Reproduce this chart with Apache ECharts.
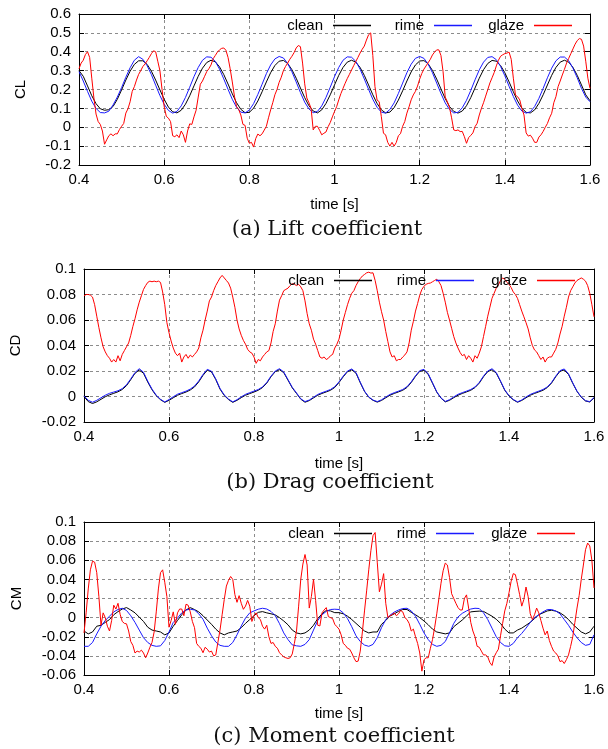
<!DOCTYPE html>
<html><head><meta charset="utf-8">
<script src="https://cdn.jsdelivr.net/npm/echarts/dist/echarts.min.js"></script>
<style>html,body{margin:0;padding:0;background:#fff}#c{width:608px;height:749px}</style>
</head><body><div id="c"></div>
<script>
// ---- time ticks ----
const xTicks = [0.4, 0.6, 0.8, 1, 1.2, 1.4, 1.6];
// ---- CL (lift) ----  smooth series sampled every 0.01 s, glaze every 0.005 s
const cleanCL = [
0.300,0.270,0.219,0.167,0.125,0.098,0.090,0.093,0.110,0.148,
0.198,0.250,0.297,0.333,0.352,0.352,0.333,0.297,0.250,0.198,
0.148,0.107,0.082,0.076,0.090,0.122,0.167,0.219,0.270,0.313,
0.343,0.355,0.347,0.320,0.279,0.229,0.177,0.130,0.095,0.077,
0.079,0.101,0.139,0.188,0.240,0.289,0.327,0.350,0.354,0.338,
0.305,0.260,0.208,0.157,0.114,0.086,0.076,0.092,0.126,0.172,
0.224,0.275,0.317,0.345,0.355,0.345,0.317,0.275,0.224,0.172,
0.126,0.092,0.076,0.080,0.104,0.144,0.193,0.245,0.293,0.330,
0.351,0.353,0.336,0.301,0.255,0.203,0.152,0.110,0.084,0.075,
0.086,0.114,0.157,0.208,0.260,0.305,0.338,0.354,0.350,0.327,
0.289,0.240,0.188,0.139,0.101,0.079,0.076,0.092,0.126,0.172,
0.224,0.275,0.317,0.345,0.355,0.345,0.317,0.275,0.224,0.172,
0.140];
const rimeCL = [
0.295,0.245,0.190,0.138,0.100,0.078,0.076,0.085,0.118,0.160,
0.210,0.265,0.315,0.355,0.374,0.360,0.326,0.279,0.223,0.168,
0.122,0.089,0.075,0.084,0.113,0.158,0.212,0.268,0.317,0.355,
0.373,0.371,0.349,0.308,0.256,0.201,0.148,0.106,0.080,0.076,
0.091,0.125,0.174,0.228,0.284,0.330,0.362,0.375,0.367,0.338,
0.294,0.240,0.184,0.133,0.097,0.077,0.084,0.113,0.158,0.212,
0.268,0.317,0.355,0.373,0.371,0.349,0.308,0.256,0.201,0.148,
0.106,0.080,0.075,0.094,0.129,0.179,0.234,0.289,0.334,0.365,
0.375,0.365,0.334,0.289,0.234,0.179,0.129,0.094,0.076,0.079,
0.103,0.143,0.195,0.251,0.304,0.345,0.370,0.374,0.358,0.322,
0.273,0.217,0.163,0.117,0.086,0.075,0.082,0.110,0.153,0.206,
0.262,0.313,0.352,0.372,0.372,0.352,0.313,0.262,0.206,0.160,
0.135];
const glazeCL = [
0.31,0.34,0.355,0.385,0.40,0.37,0.26,0.155,0.07,0.03,
0.015,-0.02,-0.09,-0.067,-0.045,-0.035,-0.045,-0.035,-0.035,-0.012,
0.005,0.02,0.075,0.098,0.135,0.19,0.215,0.25,0.28,0.30,
0.322,0.335,0.352,0.37,0.39,0.405,0.40,0.35,0.30,0.20,
0.11,0.058,0.048,0.03,-0.045,-0.05,-0.04,-0.055,-0.02,-0.04,
-0.08,-0.02,0.018,0.015,0.055,0.09,0.16,0.228,0.245,0.27,
0.295,0.31,0.33,0.363,0.38,0.398,0.41,0.418,0.42,0.408,
0.37,0.31,0.24,0.165,0.11,0.094,0.065,0.015,0.01,-0.058,
-0.085,-0.08,-0.105,-0.06,-0.036,-0.045,-0.035,-0.015,0.005,0.05,
0.092,0.13,0.172,0.2,0.238,0.265,0.30,0.322,0.34,0.36,
0.376,0.395,0.42,0.433,0.427,0.34,0.23,0.155,0.13,0.10,
-0.014,0.005,0.005,-0.016,-0.04,-0.032,-0.025,0.003,0.025,0.055,
0.083,0.109,0.145,0.178,0.206,0.233,0.258,0.28,0.303,0.326,
0.348,0.37,0.393,0.413,0.43,0.462,0.49,0.5,0.38,0.215,
0.144,0.135,0.056,-0.032,-0.04,-0.08,-0.1,-0.08,-0.1,-0.081,
-0.045,-0.034,0.005,0.03,0.075,0.108,0.145,0.171,0.19,0.218,
0.255,0.285,0.308,0.325,0.342,0.36,0.383,0.398,0.41,0.41,
0.38,0.294,0.16,0.135,0.105,0.05,-0.014,-0.018,-0.014,-0.023,
-0.022,-0.05,-0.085,-0.055,-0.043,-0.03,0.003,0.021,0.065,0.1,
0.13,0.165,0.2,0.235,0.262,0.29,0.325,0.355,0.376,0.384,
0.39,0.393,0.398,0.36,0.26,0.17,0.162,0.145,0.1,0.065,
-0.03,-0.047,-0.042,-0.058,-0.08,-0.08,-0.052,-0.04,-0.022,0.0,
0.02,0.05,0.074,0.13,0.162,0.215,0.245,0.277,0.307,0.34,
0.365,0.39,0.415,0.44,0.459,0.47,0.466,0.43,0.35,0.26,
0.206];
// ---- CD (drag) ----
const cleanCD = [
0.0,-0.004,-0.0055,-0.0042,-0.0022,-0.0002,0.0013,0.0025,0.0037,0.0055,
0.0085,0.0132,0.0182,0.0208,0.0182,0.0113,0.0053,0.0006,-0.0025,-0.0046,
-0.003,-0.001,0.001,0.0023,0.0035,0.0051,0.0075,0.0115,0.0166,0.0206,
0.0193,0.0133,0.0058,0.0008,-0.0024,-0.0046,-0.003,-0.0009,0.001,0.0023,
0.0035,0.0049,0.007,0.0105,0.0155,0.0195,0.021,0.0187,0.0128,0.0068,
0.0024,-0.0021,-0.0045,-0.0032,-0.0011,0.001,0.0024,0.0036,0.0049,0.0071,
0.011,0.0155,0.0195,0.0209,0.0183,0.0108,0.004,-0.0006,-0.003,-0.0044,
-0.0031,-0.001,0.001,0.0024,0.0036,0.0049,0.0071,0.011,0.0158,0.0198,
0.0206,0.0173,0.0104,0.0034,-0.0013,-0.0042,-0.003,-0.0009,0.001,0.0024,
0.0036,0.0049,0.007,0.0105,0.0155,0.0195,0.021,0.0183,0.0118,0.0049,
0.0004,-0.0026,-0.0045,-0.0031,-0.001,0.001,0.0024,0.0036,0.0049,0.007,
0.0105,0.0155,0.0198,0.0208,0.0173,0.0103,0.004,-0.0006,-0.0035,-0.0043,
-0.0012];
const rimeCD = [
0.0005,-0.003,-0.0045,-0.003,-0.001,0.001,0.0025,0.0035,0.0045,0.0062,
0.0092,0.0138,0.0188,0.0218,0.019,0.012,0.0058,0.001,-0.0022,-0.0043,
-0.0024,-0.0002,0.0018,0.003,0.0042,0.0058,0.0082,0.0122,0.0173,0.0213,
0.0198,0.0138,0.0063,0.0012,-0.002,-0.0042,-0.0025,-0.0003,0.0017,0.003,
0.0042,0.0055,0.0075,0.011,0.016,0.02,0.0218,0.0192,0.0132,0.0072,
0.0028,-0.0018,-0.004,-0.0028,-0.0006,0.0016,0.003,0.0042,0.0055,0.0077,
0.0115,0.016,0.02,0.0216,0.0188,0.0112,0.0042,-0.0003,-0.0028,-0.004,
-0.0026,-0.0004,0.0016,0.003,0.0042,0.0055,0.0077,0.0115,0.0163,0.0203,
0.0213,0.0178,0.0108,0.0037,-0.0011,-0.0039,-0.0025,-0.0003,0.0017,0.003,
0.0042,0.0055,0.0075,0.011,0.016,0.02,0.0218,0.0188,0.0122,0.0052,
0.0007,-0.0023,-0.0042,-0.0027,-0.0004,0.0016,0.003,0.0042,0.0055,0.0075,
0.011,0.016,0.0203,0.0216,0.0178,0.0107,0.0042,-0.0003,-0.0033,-0.004,
-0.0008];
const glazeCD = [
0.079,0.080,0.080,0.0795,0.078,0.072,0.063,0.054,0.046,0.039,
0.035,0.032,0.030,0.027,0.029,0.027,0.032,0.028,0.033,0.036,
0.039,0.042,0.048,0.055,0.061,0.068,0.074,0.079,0.084,0.087,
0.0895,0.0905,0.090,0.0905,0.090,0.0905,0.0895,0.082,0.072,0.058,
0.050,0.0435,0.038,0.034,0.032,0.034,0.027,0.031,0.033,0.030,
0.0325,0.031,0.033,0.035,0.038,0.046,0.052,0.060,0.067,0.075,
0.078,0.083,0.087,0.090,0.093,0.095,0.093,0.091,0.089,0.085,
0.078,0.070,0.060,0.053,0.048,0.044,0.041,0.037,0.035,0.034,
0.031,0.026,0.029,0.028,0.031,0.033,0.035,0.036,0.042,0.051,
0.057,0.067,0.0756,0.079,0.083,0.084,0.085,0.087,0.0885,0.088,
0.087,0.088,0.086,0.083,0.075,0.065,0.057,0.052,0.045,0.041,
0.036,0.031,0.030,0.031,0.029,0.030,0.032,0.033,0.038,0.041,
0.045,0.052,0.060,0.066,0.072,0.077,0.081,0.083,0.087,0.090,
0.0925,0.0945,0.0957,0.097,0.0975,0.0968,0.097,0.091,0.083,0.074,
0.0665,0.060,0.051,0.043,0.035,0.031,0.032,0.028,0.029,0.029,
0.031,0.0326,0.035,0.042,0.052,0.059,0.067,0.073,0.0795,0.084,
0.0865,0.088,0.0887,0.089,0.090,0.091,0.092,0.090,0.087,0.081,
0.074,0.066,0.060,0.0535,0.047,0.042,0.038,0.0345,0.032,0.033,
0.029,0.032,0.030,0.027,0.032,0.030,0.034,0.039,0.047,0.055,
0.063,0.070,0.077,0.081,0.085,0.0875,0.091,0.093,0.092,0.0895,
0.088,0.0855,0.082,0.080,0.077,0.072,0.067,0.0625,0.058,0.053,
0.046,0.040,0.0365,0.035,0.032,0.029,0.031,0.027,0.030,0.031,
0.031,0.034,0.037,0.042,0.049,0.055,0.063,0.070,0.078,0.083,
0.086,0.089,0.091,0.092,0.093,0.092,0.0905,0.087,0.081,0.072,
0.0625];
// ---- CM (moment) ----
const cleanCM = [
-0.014,-0.017,-0.015,-0.009,-0.008,-0.005,-0.002,0.003,0.0063,0.009,
0.0105,0.008,0.005,0.0005,-0.004,-0.010,-0.013,-0.014,-0.015,-0.018,
-0.016,-0.009,-0.003,0.003,0.008,0.0105,0.0084,0.006,0.002,-0.0025,
-0.007,-0.012,-0.016,-0.018,-0.016,-0.015,-0.014,-0.0105,-0.006,-0.002,
0.002,0.0055,0.0063,0.005,0.004,0.0028,0.0,-0.0035,-0.0075,-0.013,
-0.016,-0.017,-0.016,-0.013,-0.008,-0.001,0.004,0.0075,0.007,0.0052,
0.0052,0.004,0.0015,-0.002,-0.006,-0.01,-0.014,-0.016,-0.015,-0.015,
-0.007,-0.003,0.0017,0.004,0.0065,0.0085,0.0085,0.0055,0.003,0.0,
-0.0035,-0.0075,-0.012,-0.015,-0.016,-0.017,-0.016,-0.0095,-0.006,-0.0025,
0.0017,0.006,0.0065,0.0068,0.0065,0.004,0.0015,-0.0017,-0.006,-0.012,
-0.016,-0.016,-0.013,-0.011,-0.008,-0.005,-0.001,0.003,0.005,0.007,
0.0077,0.0068,0.005,0.002,-0.002,-0.007,-0.011,-0.015,-0.017,-0.015,
-0.009];
const rimeCM = [
-0.030,-0.030,-0.026,-0.017,-0.009,-0.003,0.0015,0.006,0.0085,0.0098,
0.0075,0.002,-0.005,-0.013,-0.021,-0.026,-0.029,-0.030,-0.0295,-0.024,
-0.015,-0.005,-0.0005,0.005,0.008,0.0088,0.008,0.004,-0.0017,-0.011,
-0.019,-0.0255,-0.029,-0.030,-0.030,-0.026,-0.018,-0.0087,-0.0005,0.005,
0.007,0.0088,0.0098,0.009,0.0065,0.002,-0.0063,-0.016,-0.023,-0.0285,
-0.0295,-0.030,-0.028,-0.023,-0.013,-0.003,0.003,0.0065,0.0085,0.0088,
0.0085,0.005,-0.001,-0.0095,-0.019,-0.025,-0.0287,-0.030,-0.028,-0.021,
-0.0105,-0.002,0.0025,0.0058,0.008,0.0095,0.0098,0.007,0.0015,-0.007,
-0.016,-0.023,-0.028,-0.030,-0.029,-0.025,-0.016,-0.006,0.0007,0.0045,
0.007,0.009,0.0098,0.0095,0.005,-0.002,-0.011,-0.020,-0.026,-0.0295,
-0.030,-0.027,-0.021,-0.0165,-0.011,-0.005,0.0,0.003,0.006,0.0084,
0.0085,0.007,0.004,-0.002,-0.008,-0.015,-0.021,-0.026,-0.029,-0.028,
-0.018];
const glazeCM = [
-0.016,0.005,0.030,0.050,0.059,0.058,0.047,0.022,-0.008,0.005,
0.0,-0.009,-0.014,-0.003,0.013,0.009,0.015,0.0035,-0.004,-0.006,
-0.0065,-0.014,-0.025,-0.029,-0.037,-0.035,-0.036,-0.034,-0.037,-0.042,
-0.037,-0.031,-0.026,-0.015,0.006,0.030,0.047,0.050,0.037,0.022,
-0.010,-0.003,0.006,-0.007,0.005,0.009,0.009,0.002,0.014,0.013,
0.006,-0.004,-0.0105,-0.027,-0.030,-0.032,-0.0367,-0.031,-0.033,-0.036,
-0.035,-0.040,-0.039,-0.026,-0.013,0.003,0.019,0.033,0.039,0.043,
0.040,0.024,0.016,0.023,0.015,0.0087,0.012,0.018,0.012,-0.004,
0.002,0.005,0.0,-0.002,-0.009,-0.012,-0.008,-0.020,-0.027,-0.026,
-0.030,-0.032,-0.0367,-0.039,-0.041,-0.042,-0.0427,-0.042,-0.038,-0.027,
-0.014,0.012,0.040,0.056,0.066,0.055,0.010,0.022,0.040,0.018,
-0.008,-0.0087,0.005,0.008,0.0105,0.001,0.0,-0.001,-0.007,-0.0095,
-0.012,-0.018,-0.027,-0.029,-0.032,-0.033,-0.037,-0.042,-0.046,-0.0455,
-0.035,-0.015,0.007,0.028,0.050,0.070,0.0857,0.089,0.058,0.027,
0.035,0.046,0.015,0.0,0.002,0.003,0.005,0.002,0.004,0.0075,
0.006,0.0,-0.002,-0.006,-0.014,-0.012,-0.020,-0.027,-0.037,-0.056,
-0.044,-0.042,-0.042,-0.032,-0.023,-0.0105,0.004,0.020,0.036,0.049,
0.057,0.055,0.042,0.025,0.020,0.015,0.0105,0.008,0.008,0.020,
0.0238,0.010,-0.005,-0.014,-0.020,-0.030,-0.031,-0.035,-0.039,-0.039,
-0.041,-0.047,-0.050,-0.041,-0.0367,-0.033,-0.019,-0.006,0.007,0.015,
0.026,0.038,0.046,0.045,0.035,0.024,0.012,0.019,0.032,0.022,
0.004,-0.002,0.003,0.010,0.005,-0.003,-0.011,-0.018,-0.014,-0.024,
-0.030,-0.035,-0.037,-0.040,-0.046,-0.045,-0.048,-0.044,-0.039,-0.030,
-0.020,-0.005,0.010,0.023,0.040,0.055,0.071,0.078,0.075,0.060,
0.031];
const seriesNames = ['clean', 'rime', 'glaze'];
const panelNames = ['CL', 'CD', 'CM'];
const captions = ['(a) Lift coefficient', '(b) Drag coefficient', '(c) Moment coefficient'];
const yMin = [-0.2, -0.02, -0.06], yMax = [0.6, 0.1, 0.1], yStep = [0.1, 0.02, 0.02];

// sample times (x positions of the samples)
function timeGrid(n, step) { const a = []; for (let i = 0; i < n; i++) a.push(Math.round((0.4 + i * step) * 1000) / 1000); return a; }
function zip(vals) { const step = vals.length > 130 ? 0.005 : 0.01; const t = timeGrid(vals.length, step); return vals.map((v, i) => [t[i], v]); }

const FONT = '"Liberation Sans", Arial, Helvetica, sans-serif';
const FS = 15;
const grids = [
  {left: 79, top: 14, width: 511, height: 151},
  {left: 84, top: 269, width: 510, height: 153},
  {left: 84, top: 522, width: 510, height: 153}
];
// legend: one column per series (gnuplot style: text, then line sample)
const legendTop = [18, 273, 526];
const legendRight = [[237, 136, 36], [236, 134, 33], [236, 134, 33]];
const xNameGap = [32, 34, 31];
const yNameGap = [51, 61, 60];
const colors = {clean: '#000000', rime: '#1a1aff', glaze: '#ff0000'};
const data = [[cleanCL, rimeCL, glazeCL], [cleanCD, rimeCD, glazeCD], [cleanCM, rimeCM, glazeCM]];

const xAxis = [], yAxis = [], series = [], legend = [], graphic = [];
const capPos = [[327, 230], [330, 483], [334, 737]];
for (let g = 0; g < 3; g++) {
  xAxis.push({
    type: 'value', gridIndex: g, min: 0.4, max: 1.6, interval: 0.2, position: 'bottom',
    axisLine: {show: true, onZero: false, lineStyle: {color: '#000', width: 1}},
    axisTick: {show: true, inside: true, length: 5, lineStyle: {color: '#000'}},
    axisLabel: {color: '#000', fontFamily: FONT, fontSize: FS, margin: 7},
    splitLine: {show: true, lineStyle: {color: '#8c8c8c', type: [3, 3], width: 1}},
    name: 'time [s]', nameLocation: 'middle', nameGap: xNameGap[g],
    nameTextStyle: {color: '#000', fontFamily: FONT, fontSize: FS}
  });
  yAxis.push({
    type: 'value', gridIndex: g, min: yMin[g], max: yMax[g], interval: yStep[g], position: 'left',
    axisLine: {show: true, onZero: false, lineStyle: {color: '#000', width: 1}},
    axisTick: {show: true, inside: true, length: 5, lineStyle: {color: '#000'}},
    axisLabel: {color: '#000', fontFamily: FONT, fontSize: FS, margin: 8},
    splitLine: {show: true, lineStyle: {color: '#8c8c8c', type: [3, 3], width: 1}},
    name: panelNames[g], nameLocation: 'middle', nameGap: yNameGap[g], nameRotate: 90,
    nameTextStyle: {color: '#000', fontFamily: FONT, fontSize: FS}
  });
}
for (let g = 0; g < 3; g++) {
  xAxis.push({
    type: 'value', gridIndex: g, min: 0.4, max: 1.6, interval: 0.2, position: 'top',
    axisLine: {show: true, onZero: false, lineStyle: {color: '#000', width: 1}},
    axisTick: {show: true, inside: true, length: 5, lineStyle: {color: '#000'}},
    axisLabel: {show: false}, splitLine: {show: false}
  });
  yAxis.push({
    type: 'value', gridIndex: g, min: yMin[g], max: yMax[g], interval: yStep[g], position: 'right',
    axisLine: {show: true, onZero: false, lineStyle: {color: '#000', width: 1}},
    axisTick: {show: true, inside: true, length: 5, lineStyle: {color: '#000'}},
    axisLabel: {show: false}, splitLine: {show: false}
  });
}
for (let g = 0; g < 3; g++) {
  seriesNames.forEach((nm, k) => {
    series.push({
      name: nm, type: 'line', xAxisIndex: g, yAxisIndex: g, data: zip(data[g][k]),
      symbol: 'none', showSymbol: false, smooth: false, silent: true, z: 2 + k,
      color: colors[nm], lineStyle: {color: colors[nm], width: 1}, itemStyle: {color: colors[nm]}
    });
    legend.push({
      data: [nm], right: legendRight[g][k], top: legendTop[g], orient: 'horizontal',
      align: 'right', icon: 'rect', itemWidth: 38, itemHeight: 1.5, padding: 0,
      selectedMode: false, z: 10,
      textStyle: {color: '#000', fontFamily: FONT, fontSize: FS, padding: [0, 5, 0, 0]}
    });
  });
  graphic.push({
    type: 'text', x: capPos[g][0], y: capPos[g][1], silent: true,
    style: {text: captions[g], font: '21px "DejaVu Serif", serif', fill: '#111',
            align: 'center', verticalAlign: 'middle', textAlign: 'center', textVerticalAlign: 'middle'}
  });
}
const chart = echarts.init(document.getElementById('c'));
chart.setOption({
  animation: false, backgroundColor: '#fff',
  grid: grids, xAxis: xAxis, yAxis: yAxis, series: series, legend: legend, graphic: graphic
});
</script></body></html>
